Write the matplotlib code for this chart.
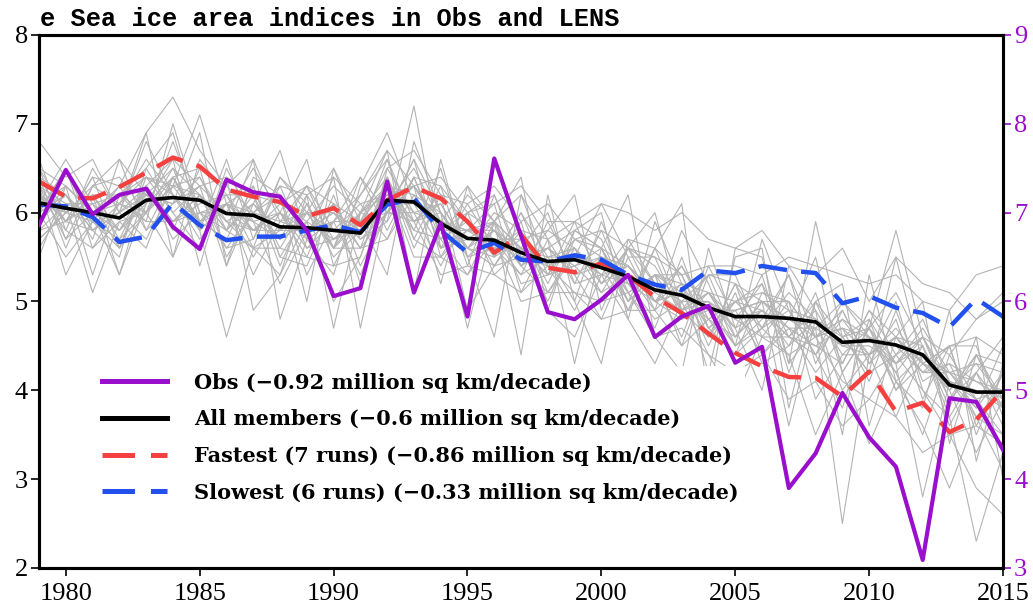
import numpy as np
import matplotlib
matplotlib.use("Agg")
import matplotlib.pyplot as plt

years = np.arange(1979, 2016)

# observed sea ice area (million sq km, right axis)
obs = [6.86, 7.48, 6.98, 7.20, 7.27, 6.84, 6.59, 7.37, 7.23, 7.18,
       6.80, 6.06, 6.15, 7.35, 6.10, 6.88, 5.83, 7.61, 6.74, 5.88,
       5.80, 6.02, 6.30, 5.60, 5.83, 5.95, 5.31, 5.49, 3.90, 4.29,
       4.97, 4.47, 4.14, 3.09, 4.91, 4.87, 4.33]

# LENS ensemble mean, fastest and slowest composites (left axis)
all_mean = [6.11, 6.05, 6.00, 5.94, 6.14, 6.17, 6.14, 5.99, 5.97, 5.84,
            5.83, 5.80, 5.77, 6.14, 6.12, 5.88, 5.71, 5.69, 5.55, 5.45,
            5.47, 5.38, 5.28, 5.13, 5.07, 4.93, 4.83, 4.83, 4.81, 4.77,
            4.54, 4.56, 4.51, 4.40, 4.06, 3.98, 3.98]
fastest = [6.35, 6.18, 6.16, 6.29, 6.45, 6.62, 6.52, 6.26, 6.18, 6.12,
           5.96, 6.05, 5.86, 6.14, 6.29, 6.16, 5.90, 5.55, 5.75, 5.38,
           5.33, 5.43, 5.30, 5.05, 4.87, 4.64, 4.42, 4.27, 4.15, 4.14,
           3.93, 4.21, 3.76, 3.86, 3.53, 3.67, 4.00]
slowest = [6.09, 6.07, 5.95, 5.67, 5.73, 6.11, 5.86, 5.69, 5.73, 5.73,
           5.80, 5.86, 5.78, 6.09, 6.16, 5.80, 5.55, 5.66, 5.47, 5.45,
           5.52, 5.47, 5.30, 5.19, 5.13, 5.35, 5.32, 5.40, 5.35, 5.32,
           4.98, 5.06, 4.93, 4.87, 4.71, 5.03, 4.83]

# individual members, 1979-2015
members = [
    [6.8, 6.4, 6.6, 6.0, 6.9, 7.3, 6.7, 6.3, 6.6, 5.9, 6.3, 5.6, 6.2, 6.7, 6.3, 5.9, 6.3, 5.5, 6.0, 5.3,
     5.9, 5.7, 5.0, 5.6, 5.3, 4.6, 5.2, 4.7, 5.3, 4.3, 4.9, 4.3, 4.8, 3.9, 4.5, 3.6, 4.2],
    [5.6, 6.1, 5.1, 5.9, 5.6, 6.4, 5.8, 4.6, 5.6, 5.3, 5.9, 5.0, 5.5, 6.4, 5.6, 6.2, 4.9, 5.4, 5.9, 4.9,
     4.6, 5.3, 4.8, 4.3, 5.0, 4.4, 3.9, 4.6, 4.4, 3.5, 4.2, 3.4, 4.1, 3.6, 2.9, 3.7, 3.1],
    [6.4, 5.6, 6.3, 6.4, 6.0, 5.5, 6.6, 6.2, 5.6, 6.4, 6.0, 6.5, 5.7, 5.9, 7.2, 5.6, 5.8, 6.1, 5.1, 5.7,
     5.9, 5.2, 5.6, 5.2, 4.6, 5.4, 4.8, 5.2, 4.2, 5.0, 4.3, 4.9, 4.4, 4.6, 3.9, 4.4, 3.8],
    [6.0, 6.5, 5.8, 5.5, 6.5, 6.9, 5.9, 5.7, 6.3, 5.5, 5.4, 6.1, 5.2, 6.5, 6.0, 5.4, 6.0, 5.3, 5.6, 6.0,
     5.2, 5.8, 5.1, 4.7, 5.5, 4.7, 4.4, 5.1, 4.9, 4.4, 3.8, 4.8, 4.0, 4.5, 3.6, 4.2, 4.6],
    [6.2, 5.8, 6.5, 6.0, 5.7, 6.3, 7.1, 6.1, 5.5, 6.0, 6.6, 5.4, 6.0, 6.2, 5.8, 6.5, 5.5, 5.8, 5.4, 5.1,
     5.6, 5.1, 5.6, 5.4, 4.9, 5.0, 4.5, 4.8, 5.3, 4.6, 4.7, 4.1, 4.9, 4.1, 4.3, 3.7, 4.0],
    [5.9, 6.3, 5.3, 6.2, 6.4, 6.0, 5.6, 6.5, 5.9, 5.2, 5.8, 6.0, 5.6, 5.7, 6.4, 5.7, 5.3, 5.9, 6.2, 5.4,
     4.9, 5.5, 5.3, 4.9, 5.2, 4.5, 5.1, 4.3, 4.5, 4.8, 4.0, 4.4, 3.7, 4.4, 4.0, 3.3, 3.9],
    [6.5, 6.0, 6.2, 5.3, 6.1, 6.6, 6.3, 5.4, 6.1, 6.7, 5.7, 5.3, 6.3, 6.9, 6.1, 5.6, 6.1, 5.6, 5.3, 5.9,
     5.3, 4.8, 5.5, 5.5, 4.8, 4.9, 4.9, 4.4, 4.7, 4.2, 4.6, 4.7, 4.2, 3.5, 4.4, 3.9, 3.3],
    [6.1, 6.6, 6.1, 5.8, 6.3, 5.8, 6.5, 6.3, 6.0, 5.7, 6.2, 5.7, 5.9, 6.3, 5.9, 6.1, 5.6, 6.0, 5.8, 5.2,
     5.8, 5.6, 5.0, 5.3, 5.2, 5.1, 4.7, 5.3, 4.3, 4.7, 5.0, 4.6, 4.5, 4.2, 4.5, 4.5, 3.7],
    [5.8, 5.9, 6.4, 6.3, 5.8, 6.4, 5.9, 6.0, 6.5, 6.0, 5.5, 6.2, 5.4, 6.0, 6.6, 6.0, 5.6, 5.4, 5.5, 5.6,
     5.4, 5.1, 5.3, 5.0, 5.4, 4.8, 4.6, 5.0, 5.0, 3.9, 4.4, 4.4, 5.0, 4.0, 3.7, 4.2, 3.6],
    [6.3, 5.7, 6.0, 6.1, 6.6, 6.2, 5.9, 6.1, 5.3, 5.9, 6.0, 5.8, 6.1, 5.7, 6.2, 5.7, 6.2, 5.9, 5.2, 5.3,
     5.7, 5.6, 4.9, 5.3, 4.5, 5.3, 5.3, 4.6, 4.6, 5.0, 4.6, 4.2, 4.4, 4.8, 4.1, 3.8, 4.5],
    [6.0, 6.2, 5.7, 6.6, 6.2, 6.1, 6.4, 5.8, 6.2, 5.6, 6.1, 5.5, 5.8, 6.2, 5.9, 6.2, 5.9, 5.5, 6.0, 5.5,
     5.0, 5.9, 5.2, 4.8, 5.0, 5.3, 4.6, 4.9, 4.5, 5.1, 4.2, 4.7, 4.0, 4.3, 4.5, 3.5, 4.2],
    [6.4, 6.2, 5.9, 5.7, 6.0, 6.8, 6.0, 6.0, 5.8, 6.1, 5.9, 6.3, 6.0, 6.4, 5.7, 5.5, 5.8, 5.7, 5.7, 5.8,
     5.6, 5.2, 5.6, 5.0, 5.1, 4.6, 5.2, 5.0, 4.8, 4.6, 4.9, 4.3, 4.6, 4.3, 4.0, 4.4, 4.3],
    [5.7, 6.0, 6.2, 6.2, 5.9, 5.9, 6.2, 5.6, 5.7, 6.3, 5.6, 5.9, 6.4, 5.8, 6.4, 6.3, 5.4, 6.2, 5.5, 5.4,
     5.5, 5.4, 4.9, 5.6, 4.9, 4.6, 5.0, 5.2, 4.6, 4.5, 4.3, 4.9, 4.6, 4.5, 3.8, 4.6, 4.4],
    [6.2, 5.9, 5.8, 6.0, 6.8, 6.2, 5.7, 6.1, 6.3, 5.5, 6.0, 5.6, 5.6, 6.0, 6.3, 5.8, 6.0, 5.8, 5.6, 5.0,
     5.7, 5.5, 5.4, 5.1, 5.4, 4.9, 4.5, 4.7, 5.1, 4.8, 4.5, 4.5, 4.3, 4.7, 4.2, 3.9, 3.5],
    [6.1, 6.3, 6.0, 5.8, 6.2, 6.5, 6.2, 5.9, 5.6, 5.8, 6.0, 6.0, 5.8, 6.6, 5.9, 6.0, 5.5, 5.6, 5.8, 5.7,
     5.2, 5.3, 5.7, 5.2, 5.0, 5.0, 4.8, 4.9, 4.6, 4.4, 4.8, 4.6, 4.1, 4.4, 4.2, 4.1, 4.0],
    [6.0, 5.5, 5.9, 5.6, 6.3, 5.7, 6.0, 5.8, 5.6, 5.6, 5.5, 5.4, 5.5, 6.3, 5.5, 5.5, 5.3, 5.7, 5.0, 5.1,
     5.1, 5.0, 5.1, 4.6, 4.7, 4.4, 4.2, 4.4, 3.9, 4.1, 3.6, 3.9, 3.7, 3.3, 3.5, 2.9, 2.6],
    [6.3, 6.1, 6.1, 6.2, 6.5, 6.0, 6.3, 6.4, 6.2, 6.1, 6.3, 6.1, 5.9, 6.5, 6.7, 6.2, 6.1, 6.3, 5.9, 6.1,
     5.7, 5.8, 5.6, 5.5, 5.3, 5.4, 5.4, 5.3, 5.5, 5.4, 5.3, 5.2, 5.3, 5.0, 4.9, 5.3, 5.4],
    [6.2, 6.0, 6.3, 6.1, 6.4, 6.3, 5.9, 6.1, 6.0, 6.3, 6.2, 6.4, 6.1, 6.2, 6.3, 6.4, 6.0, 6.1, 6.3, 5.9,
     5.9, 6.1, 6.0, 5.8, 6.0, 5.7, 5.6, 5.8, 5.4, 5.3, 5.6, 5.0, 5.5, 5.2, 5.1, 4.8, 5.1],
    [6.5, 5.7, 6.3, 6.6, 5.8, 6.1, 6.9, 5.4, 6.4, 6.2, 5.0, 6.5, 5.9, 5.3, 6.8, 6.0, 4.7, 5.9, 6.4, 4.9,
     5.8, 6.0, 4.8, 5.9, 5.2, 4.2, 5.5, 5.6, 3.8, 5.0, 5.2, 3.6, 4.6, 5.0, 3.4, 4.4, 3.9],
    [5.5, 6.3, 6.0, 5.3, 6.3, 6.6, 5.4, 6.4, 4.9, 5.3, 6.2, 4.7, 6.0, 6.7, 5.1, 6.6, 5.5, 4.6, 6.2, 5.7,
     4.3, 5.6, 6.2, 4.6, 4.2, 5.6, 4.7, 4.0, 5.4, 4.9, 3.5, 5.3, 4.1, 3.8, 4.9, 3.2, 4.3],
    [6.3, 5.3, 5.9, 6.3, 6.9, 5.5, 6.2, 5.8, 6.6, 4.8, 5.7, 6.4, 4.7, 6.1, 6.3, 5.2, 6.3, 5.9, 4.4, 6.2,
     5.0, 4.3, 5.7, 5.6, 6.1, 3.9, 5.6, 5.5, 4.3, 5.9, 4.6, 4.2, 5.5, 4.3, 4.5, 4.6, 3.0],
    [6.6, 5.8, 5.6, 5.9, 6.0, 6.4, 6.5, 5.5, 6.0, 5.9, 5.8, 5.9, 5.3, 6.0, 5.9, 5.3, 5.4, 5.3, 5.1, 5.4,
     5.1, 4.8, 4.9, 4.9, 4.5, 4.8, 4.4, 4.7, 4.4, 4.6, 4.1, 3.9, 4.4, 4.0, 3.5, 3.6, 3.4],
    [5.7, 6.0, 6.2, 5.7, 6.3, 5.9, 6.1, 6.2, 6.2, 5.4, 6.1, 5.6, 6.0, 6.3, 6.2, 6.0, 5.6, 5.9, 5.4, 5.6,
     5.8, 5.6, 5.4, 5.0, 4.8, 5.1, 5.0, 4.7, 4.9, 4.8, 4.6, 4.8, 4.3, 4.6, 4.0, 4.3, 4.2],
    [6.5, 6.3, 6.0, 6.3, 6.2, 5.9, 6.0, 6.1, 5.8, 5.8, 6.3, 5.8, 5.9, 6.1, 6.5, 5.9, 5.8, 5.9, 5.6, 5.3,
     5.4, 5.5, 5.0, 5.3, 5.3, 4.7, 5.0, 5.1, 5.0, 4.6, 4.8, 4.4, 4.6, 4.2, 4.3, 4.1, 3.9],
    [5.9, 6.2, 5.8, 6.1, 6.0, 6.3, 6.2, 5.9, 5.8, 6.0, 5.8, 6.0, 5.7, 6.0, 6.0, 5.9, 5.6, 5.8, 5.5, 5.6,
     5.3, 5.4, 5.2, 5.0, 5.1, 4.9, 4.9, 5.0, 3.6, 4.8, 4.5, 4.6, 4.3, 2.8, 4.1, 3.7, 3.5],
    [6.1, 6.0, 5.9, 6.0, 6.2, 6.1, 6.3, 6.0, 5.9, 5.7, 5.9, 5.7, 5.8, 6.1, 6.1, 5.9, 5.8, 5.6, 5.6, 5.5,
     5.5, 5.3, 5.2, 5.2, 5.0, 5.0, 4.7, 4.9, 4.7, 4.7, 2.5, 4.4, 4.6, 4.3, 4.1, 3.9, 4.0],
    [6.0, 6.5, 5.6, 6.1, 5.9, 7.0, 6.0, 5.6, 6.0, 6.2, 5.3, 5.9, 6.2, 6.6, 5.7, 6.3, 5.9, 5.4, 5.8, 5.1,
     5.5, 6.1, 5.5, 4.9, 5.8, 5.2, 4.5, 5.7, 4.9, 4.4, 5.0, 4.7, 5.1, 4.5, 3.7, 2.3, 3.3],
    [6.3, 5.9, 6.4, 5.6, 6.4, 6.2, 5.8, 6.6, 5.7, 6.4, 6.1, 5.6, 6.4, 6.0, 6.6, 5.5, 6.0, 6.2, 5.4, 5.8,
     6.2, 4.9, 5.6, 6.0, 4.9, 5.3, 5.2, 4.4, 4.8, 5.5, 4.2, 4.7, 5.8, 4.6, 4.4, 4.8, 5.0],
    [6.2, 5.9, 6.2, 5.8, 6.1, 6.4, 5.9, 6.2, 5.8, 6.0, 5.7, 5.9, 5.9, 6.3, 6.0, 6.1, 5.6, 5.5, 5.7, 5.4,
     5.6, 5.2, 5.4, 5.1, 4.9, 5.1, 4.8, 4.6, 5.0, 4.6, 4.7, 4.4, 4.6, 4.2, 4.2, 3.8, 4.2],
    [6.0, 6.2, 5.8, 6.0, 6.3, 5.9, 6.2, 5.8, 6.1, 5.7, 6.0, 5.6, 5.9, 6.0, 6.3, 5.8, 5.8, 5.8, 5.4, 5.6,
     5.3, 5.5, 5.1, 5.3, 5.1, 4.8, 5.0, 4.9, 4.6, 4.9, 4.4, 4.7, 4.3, 4.5, 3.9, 4.2, 3.8],
    [6.4, 5.9, 6.1, 5.6, 6.0, 6.3, 6.4, 5.9, 6.1, 5.8, 5.8, 6.1, 5.6, 6.4, 5.8, 5.7, 5.9, 5.7, 5.3, 5.5,
     5.6, 5.3, 5.4, 5.0, 5.2, 4.7, 4.9, 5.0, 4.7, 4.5, 4.7, 4.6, 4.2, 4.6, 4.1, 4.0, 3.8],
    [5.8, 6.1, 6.0, 6.2, 6.0, 6.5, 5.8, 6.1, 5.9, 6.0, 5.6, 5.7, 6.0, 5.9, 6.4, 5.6, 5.7, 5.9, 5.6, 5.3,
     5.4, 5.6, 5.1, 5.3, 4.9, 5.1, 4.6, 5.0, 4.8, 4.7, 4.5, 4.4, 4.7, 4.3, 4.2, 4.3, 3.9],
]

labels = ["Obs (\u22120.92 million sq km/decade)",
          "All members (\u22120.6 million sq km/decade)",
          "Fastest (7 runs) (\u22120.86 million sq km/decade)",
          "Slowest (6 runs) (\u22120.33 million sq km/decade)"]

purple = "#9a0fcc"
red = "#f54040"
blue = "#2150ef"

fig = plt.figure(figsize=(10.33, 6.05), dpi=100)
ax = fig.add_axes([0.0378, 0.0612, 0.9332, 0.8810])

for m in members:
    ax.plot(years, m, color="#b4b4b4", lw=0.8, zorder=1)

l_fast, = ax.plot(years, fastest, color=red, lw=3.2, dashes=(6.5, 3.2), zorder=3)
l_slow, = ax.plot(years, slowest, color=blue, lw=3.2, dashes=(6.5, 3.2), zorder=4)
l_all, = ax.plot(years, all_mean, color="black", lw=2.6, zorder=5)

ax.set_xlim(1979, 2015)
ax.set_ylim(2, 8)
ax.set_xticks(range(1980, 2016, 5))
ax.set_yticks(range(2, 9))

ax2 = ax.twinx()
l_obs, = ax2.plot(years, obs, color=purple, lw=3.0, zorder=6)
ax2.set_ylim(3, 9)
ax2.set_yticks(range(3, 10))

for a in (ax, ax2):
    for s in a.spines.values():
        s.set_linewidth(2.2)
    for lab in a.get_xticklabels() + a.get_yticklabels():
        lab.set_fontfamily("Liberation Serif")
        lab.set_fontsize(19)
ax.tick_params(axis="y", direction="out", length=6, width=1.2, pad=2)
ax.tick_params(axis="x", direction="out", length=6, width=1.2, pad=5)
ax2.tick_params(axis="y", direction="out", length=6, width=1.2, pad=2,
                colors=purple)

leg = ax2.legend([l_obs, l_all, l_fast, l_slow], labels,
                 loc="upper left", bbox_to_anchor=(0.048, 0.398),
                 prop={"family": "DejaVu Serif", "weight": "bold", "size": 15.0},
                 handlelength=3.12, handletextpad=1.3, labelspacing=0.8,
                 frameon=True, facecolor="white", edgecolor="none",
                 framealpha=1, borderpad=0.3, fancybox=False)
leg.set_zorder(10)
for h in leg.legend_handles:
    h.set_linewidth(3.6)

fig.text(0.0387, 0.957, "e Sea ice area indices in Obs and LENS",
         family="Liberation Mono", weight="bold", size=18.3, va="baseline")

fig.savefig("out.png", dpi=100)
